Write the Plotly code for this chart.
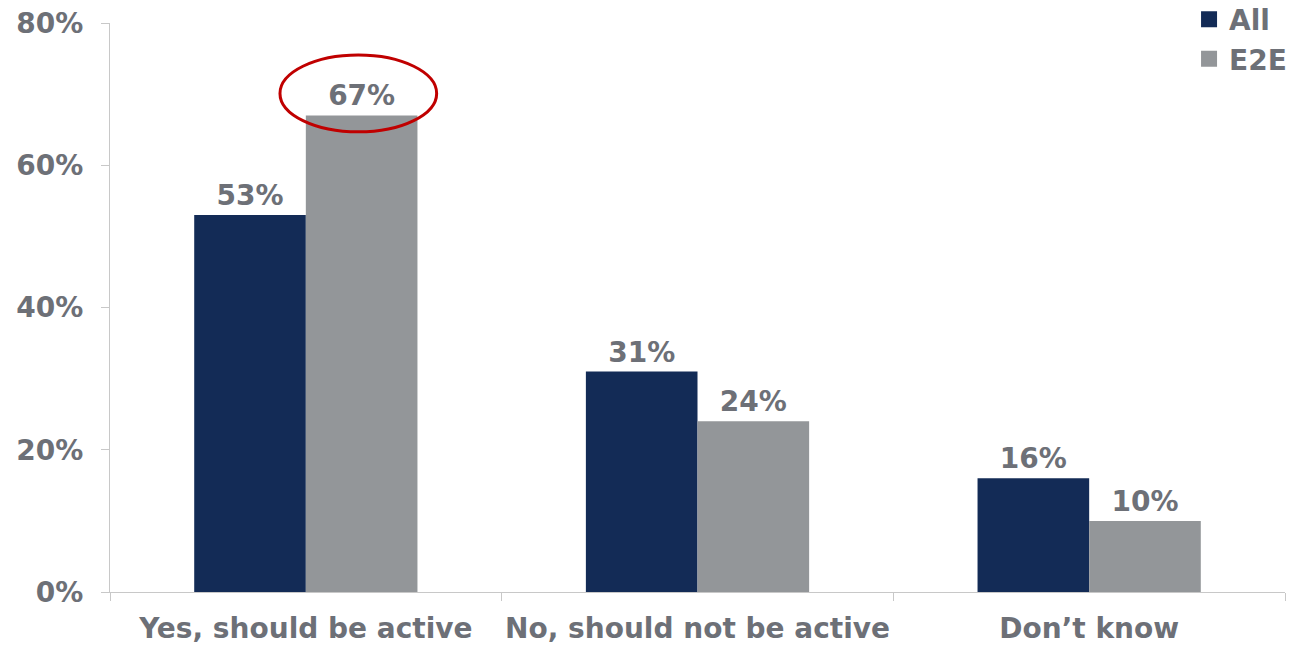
import plotly.graph_objects as go

# -------------------- Data --------------------
categories = ["Yes, should be active", "No, should not be active", "Don\u2019t know"]
series_names = ["All", "E2E"]
all_values = [0.53, 0.31, 0.16]
e2e_values = [0.67, 0.24, 0.10]
y_ticks = [0, 0.2, 0.4, 0.6, 0.8]
y_tick_labels = ["0%", "20%", "40%", "60%", "80%"]

NAVY = "#132B56"
GREY = "#939699"
TEXT = "#6D7077"
AXIS = "#C8C8C8"
FONT = dict(family="DejaVu Sans", size=28, color=TEXT, weight="bold")

fig = go.Figure()

for name, vals, col in zip(series_names, [all_values, e2e_values], [NAVY, GREY]):
    fig.add_trace(go.Bar(
        name=name, x=categories, y=vals,
        marker=dict(color=col, line=dict(width=0)),
        text=[f"{v:.0%}" for v in vals], textposition="outside",
        textfont=FONT, cliponaxis=False, showlegend=False,
    ))
    # legend-only entry with a bigger square swatch
    fig.add_trace(go.Scatter(
        name=name, x=[None], y=[None], mode="markers",
        marker=dict(symbol="square", size=16, color=col),
    ))

# red ellipse around the E2E "Yes" label
fig.add_shape(
    type="circle", xref="x", yref="y",
    x0=-0.066, x1=0.334, y0=e2e_values[0] - 0.023, y1=e2e_values[0] + 0.085,
    line=dict(color="#C00000", width=3),
)

# page body adds an 8px offset, so margins are shifted to compensate
fig.update_layout(
    width=1295, height=645,
    margin=dict(l=102, r=18, t=15, b=61, autoexpand=False),
    plot_bgcolor="white", paper_bgcolor="white",
    barmode="group", bargap=0.43, bargroupgap=0,
    font=FONT,
    showlegend=True,
    legend=dict(
        x=1.006, xanchor="right", y=1.05, yanchor="top",
        font=FONT, bgcolor="rgba(0,0,0,0)", itemwidth=30, tracegroupgap=0,
    ),
)

fig.update_xaxes(
    showline=True, linecolor=AXIS, linewidth=1,
    ticks="outside", tickson="boundaries", ticklen=8, tickcolor=AXIS,
    tickfont=FONT, showgrid=False, tickangle=0, ticklabeloverflow="allow",
    ticklabelstandoff=11,
)
fig.update_yaxes(
    range=[0, 0.8], tickvals=y_ticks, ticktext=y_tick_labels,
    showline=True, linecolor=AXIS, linewidth=1,
    ticks="outside", ticklen=8, tickcolor=AXIS,
    tickfont=FONT, showgrid=False, zeroline=False, ticklabeloverflow="allow",
    ticklabelstandoff=12,
)

fig.write_html("out.html")
